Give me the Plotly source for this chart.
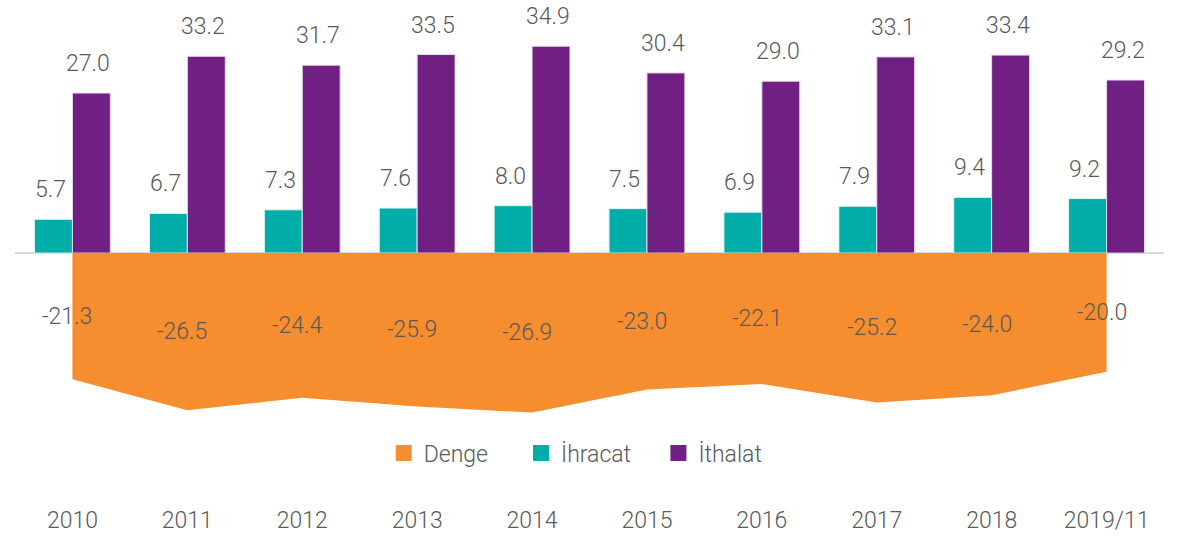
import plotly.graph_objects as go

years = ["2010", "2011", "2012", "2013", "2014", "2015", "2016", "2017", "2018", "2019/11"]
ihracat = [5.7, 6.7, 7.3, 7.6, 8.0, 7.5, 6.9, 7.9, 9.4, 9.2]
ithalat = [27.0, 33.2, 31.7, 33.5, 34.9, 30.4, 29.0, 33.1, 33.4, 29.2]
denge = [-21.3, -26.5, -24.4, -25.9, -26.9, -23.0, -22.1, -25.2, -24.0, -20.0]
legend_names = ["Denge", "İhracat", "İthalat"]

C_DENGE = "#F68D2E"
C_IHR = "#00ADA8"
C_ITH = "#702082"
TXT = "#595959"
FONT = "Roboto"
FS = 23
NB = "\u00a0"


def f(size=FS):
    return dict(color=TXT, size=size, family=FONT, weight=300)


fig = go.Figure()

fig.add_trace(go.Scatter(
    x=years, y=denge, mode="lines", fill="tozeroy",
    fillcolor=C_DENGE, line=dict(width=0, color=C_DENGE),
    showlegend=False, hoverinfo="skip",
))
fig.add_trace(go.Bar(
    x=years, y=ihracat, marker=dict(color=C_IHR, line=dict(color="#dff3f2", width=1)),
    showlegend=False,
))
fig.add_trace(go.Bar(
    x=years, y=ithalat, marker=dict(color=C_ITH, line=dict(color="#e6d9ea", width=1)),
    showlegend=False,
))

pads = [NB * 5, NB * 4, ""]
for name, col, pad in zip(legend_names, [C_DENGE, C_IHR, C_ITH], pads):
    fig.add_trace(go.Scatter(
        x=[years[0]], y=[None], mode="markers", name=name + pad,
        marker=dict(symbol="square", size=17, color=col),
    ))

annotations = []
for i, (a, b, d) in enumerate(zip(ihracat, ithalat, denge)):
    annotations.append(dict(x=i, y=a, xref="x", yref="y", text=f"{a:.1f}", showarrow=False,
                            yanchor="bottom", xshift=-22, yshift=14, font=f()))
    annotations.append(dict(x=i, y=b, xref="x", yref="y", text=f"{b:.1f}", showarrow=False,
                            yanchor="bottom", xshift=16, yshift=14, font=f()))
    annotations.append(dict(x=i, y=d / 2, xref="x", yref="y", text=f"{d:.1f}", showarrow=False,
                            yanchor="middle", xshift=-5, font=f()))

fig.update_layout(
    width=1177, height=537,
    margin=dict(l=14.5, r=12.5, t=16, b=33, autoexpand=False),
    paper_bgcolor="white", plot_bgcolor="white",
    barmode="group", bargap=0.34, bargroupgap=0,
    font=f(),
    showlegend=True,
    hovermode=False,
    legend=dict(orientation="h", x=0.488, xanchor="center", y=0.1045, yanchor="middle",
                font=f(), itemwidth=30, bgcolor="rgba(0,0,0,0)"),
    annotations=annotations,
    xaxis=dict(type="category", categoryorder="array", categoryarray=years,
               range=[-0.5, len(years) - 0.5], automargin=False,
               showgrid=False, showline=False, ticks="", tickfont=f()),
    yaxis=dict(range=[-42.33, 40], automargin=False, showgrid=False, showticklabels=False,
               zeroline=True, zerolinecolor="#d9d9d9", zerolinewidth=2, showline=False),
)

fig.write_html("out.html", config={"displayModeBar": False},
               post_script="document.body.style.margin='0';")
